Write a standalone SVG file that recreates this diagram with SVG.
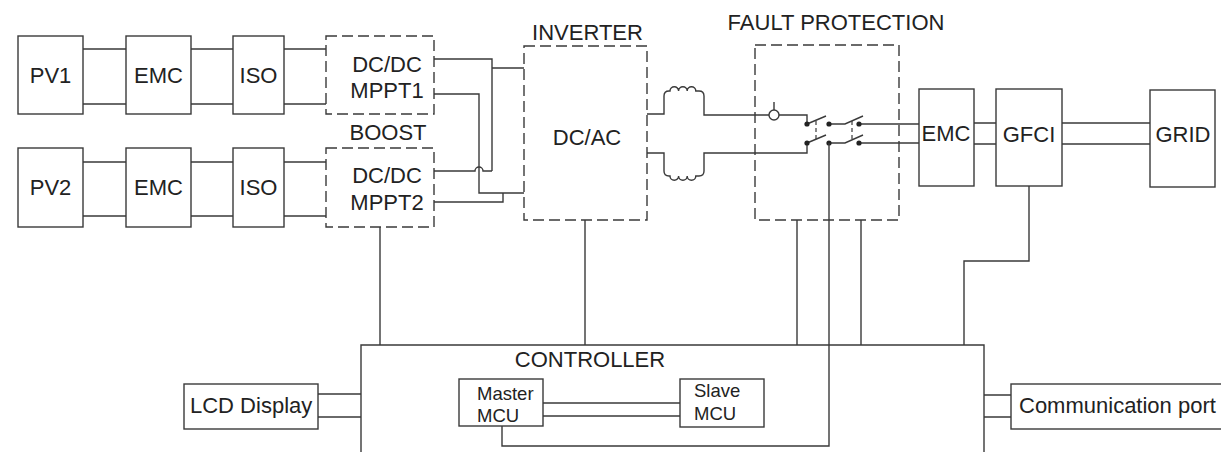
<svg xmlns="http://www.w3.org/2000/svg" width="1221" height="452" viewBox="0 0 1221 452">
<style>
.b{fill:#fff;stroke:#3a3a3a;stroke-width:1.4}
.d{fill:none;stroke:#3a3a3a;stroke-width:1.4;stroke-dasharray:11 5}
.w{fill:none;stroke:#3a3a3a;stroke-width:1.4}
.cd{fill:none;stroke:#3a3a3a;stroke-width:1.2;stroke-dasharray:4 3}
.dot{fill:#222}
text{font-family:"Liberation Sans",Arial,sans-serif;font-size:22px;fill:#222}
.c{text-anchor:middle}
.s{font-size:18.5px}
</style>
<rect width="1221" height="452" fill="#fff"/>
<g id="connectors">
<path class="w" d="M83,49H126M83,104H126M191,49H233M191,104H233M284,49H326M284,104H326"/>
<path class="w" d="M83,162H126M83,216H126M191,162H233M191,216H233M284,162H326M284,216H326"/>
<path class="w" d="M434,59H492V171M492,68H524M434,171H475A4,4 0 0 1 483,171H492"/>
<path class="w" d="M434,94H479V193H524M434,202H503V193"/>
<path class="w" d="M647,114H664V96Q664,91 669,91H670A4.3,4.3 0 0 1 678.6,91A4.3,4.3 0 0 1 687.2,91A4.3,4.3 0 0 1 695.8,91H699Q704,91 704,96V115H769"/>
<path class="w" d="M647,153H664V171Q664,176 669,176H670A4.3,4.3 0 0 0 678.6,176A4.3,4.3 0 0 0 687.2,176A4.3,4.3 0 0 0 695.8,176H699Q704,176 704,171V153H807V143"/>
<circle cx="774" cy="115" r="5" class="w"/>
<path class="w" d="M774,110V102M779,115H807V124"/>
<path class="w" d="M807,124L826,116M829,124H845L863,116M859,124H919"/>
<path class="w" d="M807,143L826,135M829,143H845L863,135M859,143H919"/>
<path class="cd" d="M816,121V140M852,121V140"/>
<circle class="dot" cx="807" cy="124" r="2.6"/>
<circle class="dot" cx="829" cy="124" r="2.6"/>
<circle class="dot" cx="859" cy="124" r="2.6"/>
<circle class="dot" cx="807" cy="143" r="2.6"/>
<circle class="dot" cx="829" cy="143" r="2.6"/>
<circle class="dot" cx="859" cy="143" r="2.6"/>
<path class="w" d="M974,123H996M974,144H996M1062,123H1150M1062,144H1150"/>
<path class="w" d="M380,227V345M585,220V345M797,220V345M861,220V345"/>
<path class="w" d="M829,143V446H502V426"/>
<path class="w" d="M1029,186V261H964V345"/>
<path class="w" d="M318,394H361M318,417H361M984,395H1011M984,417H1011"/>
<path class="w" d="M543,403H680M543,416H680"/>
</g>
<g id="pv1"><rect class="b" x="18" y="36" width="65" height="78"/><text class="c" x="50.5" y="83">PV1</text></g>
<g id="emc1"><rect class="b" x="126" y="36" width="65" height="78"/><text class="c" x="158.5" y="83">EMC</text></g>
<g id="iso1"><rect class="b" x="233" y="36" width="51" height="78"/><text class="c" x="258.5" y="83">ISO</text></g>
<g id="mppt1"><rect class="d" x="326" y="36" width="108" height="78"/><text class="c" x="387" y="72">DC/DC</text><text class="c" x="387" y="98">MPPT1</text></g>
<g id="boost-label"><text class="c" x="388" y="140">BOOST</text></g>
<g id="pv2"><rect class="b" x="18" y="148" width="65" height="79"/><text class="c" x="50.5" y="195">PV2</text></g>
<g id="emc2"><rect class="b" x="126" y="148" width="65" height="79"/><text class="c" x="158.5" y="195">EMC</text></g>
<g id="iso2"><rect class="b" x="233" y="148" width="51" height="79"/><text class="c" x="258.5" y="195">ISO</text></g>
<g id="mppt2"><rect class="d" x="326" y="148" width="108" height="79"/><text class="c" x="387" y="183">DC/DC</text><text class="c" x="387" y="210">MPPT2</text></g>
<g id="inverter"><rect class="d" x="524" y="46" width="123" height="174"/><text class="c" x="587.5" y="40">INVERTER</text><text class="c" x="587" y="145">DC/AC</text></g>
<g id="fault"><rect class="d" x="755" y="45" width="144" height="175"/><text class="c" x="836" y="30">FAULT PROTECTION</text></g>
<g id="emc3"><rect class="w" x="919" y="89" width="55" height="97"/><text class="c" x="946" y="141">EMC</text></g>
<g id="gfci"><rect class="b" x="996" y="89" width="66" height="97"/><text class="c" x="1029" y="142">GFCI</text></g>
<g id="grid"><rect class="b" x="1150" y="90" width="65" height="97"/><text class="c" x="1183" y="142">GRID</text></g>
<g id="controller"><path class="w" d="M361,460V345H984V460"/><text class="c" x="590" y="367">CONTROLLER</text></g>
<g id="lcd"><rect class="b" x="184" y="384" width="134" height="45"/><text x="190" y="413">LCD Display</text></g>
<g id="master"><rect class="b" x="459" y="379" width="84" height="47"/><text class="s" x="477" y="400">Master</text><text class="s" x="477" y="422">MCU</text></g>
<g id="slave"><rect class="b" x="680" y="379" width="84" height="48"/><text class="s" x="694" y="397">Slave</text><text class="s" x="694" y="420">MCU</text></g>
<g id="comm"><rect class="b" x="1011" y="384" width="215" height="45"/><text x="1019" y="413">Communication port</text></g>
</svg>
